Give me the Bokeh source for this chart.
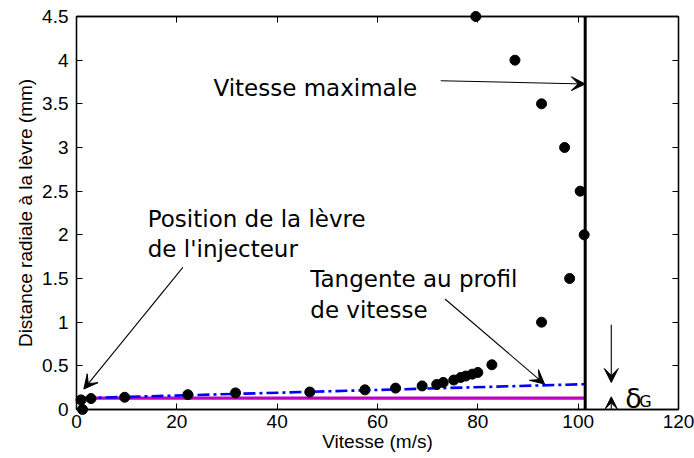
from bokeh.plotting import figure
from bokeh.models import LinearAxis, FixedTicker, Label, Arrow, VeeHead, CustomJSTickFormatter
from bokeh.embed import file_html
from bokeh.resources import INLINE

# Measured profile
vitesse = [1.2, 0.9, 2.9, 9.6, 22.2, 31.7, 46.5, 57.5, 63.6, 68.9,
           71.8, 73.1, 75.2, 76.6, 77.6, 78.9, 80.0, 82.8,
           92.7, 98.3, 101.2, 100.4, 97.3, 92.7, 87.4, 79.6]
distance = [0.0, 0.11, 0.125, 0.14, 0.17, 0.19, 0.20, 0.225, 0.245, 0.27,
            0.286, 0.31, 0.337, 0.367, 0.383, 0.405, 0.424, 0.512,
            1.0, 1.5, 2.0, 2.5, 3.0, 3.5, 4.0, 4.5]

# Reference lines
vmax_x = [101.4, 101.4]
vmax_y = [0, 4.5]
levre_x = [1.2, 101.4]
levre_y = [0.13, 0.13]
tangente_x = [1.2, 101.4]
tangente_y = [0.13, 0.29]

# Axis ticks
x_ticks = [0, 20, 40, 60, 80, 100, 120]
x_tick_labels = ["0", "20", "40", "60", "80", "100", "120"]
y_ticks = [0, 0.5, 1, 1.5, 2, 2.5, 3, 3.5, 4, 4.5]
y_tick_labels = ["0", "0.5", "1", "1.5", "2", "2.5", "3", "3.5", "4", "4.5"]

TICK_FONT = "Liberation Sans"
ANN_FONT = "DejaVu Sans"

p = figure(width=694, height=458, x_range=(0, 120), y_range=(0, 4.5),
           output_backend="svg", toolbar_location=None,
           min_border_left=76, min_border_right=16, min_border_top=16,
           min_border_bottom=49)
p.grid.visible = False
p.outline_line_color = "black"
p.outline_line_width = 1.3
p.background_fill_color = "white"

for ax in p.xaxis:
    ax.ticker = FixedTicker(ticks=x_ticks)
    ax.major_label_overrides = dict(zip(x_ticks, x_tick_labels))
    ax.axis_label = "Vitesse (m/s)"
    ax.axis_label_standoff = 0
for ax in p.yaxis:
    ax.ticker = FixedTicker(ticks=y_ticks)
    ax.major_label_overrides = dict(zip(y_ticks, y_tick_labels))
    ax.axis_label = "Distance radiale à la lèvre (mm)"
    ax.axis_label_standoff = 3

for ax in list(p.xaxis) + list(p.yaxis):
    ax.axis_label_text_font = TICK_FONT
    ax.axis_label_text_font_size = "19px"
    ax.axis_label_text_font_style = "normal"
    ax.axis_label_text_color = "black"
    ax.major_label_text_font = TICK_FONT
    ax.major_label_text_font_size = "19px"
    ax.major_label_text_color = "black"
    ax.major_tick_in = 6
    ax.major_tick_out = 0
    ax.minor_tick_line_color = None
    ax.axis_line_width = 1.3
    ax.axis_line_color = "black"
    ax.major_tick_line_color = "black"
for ax in p.xaxis:
    ax.major_label_standoff = 5
for ax in p.yaxis:
    ax.major_label_standoff = 8

blank = CustomJSTickFormatter(code="return '';")
top_ax = LinearAxis(ticker=FixedTicker(ticks=x_ticks), formatter=blank,
                    major_label_standoff=0, major_tick_in=6, major_tick_out=0,
                    minor_tick_line_color=None, axis_line_width=1.3)
right_ax = LinearAxis(ticker=FixedTicker(ticks=y_ticks), formatter=blank,
                      major_label_standoff=0, major_tick_in=6, major_tick_out=0,
                      minor_tick_line_color=None, axis_line_width=1.3)
p.add_layout(top_ax, "above")
p.add_layout(right_ax, "right")

# Lines
p.line(levre_x, levre_y, line_color="#C000C0", line_width=3.2)
p.line(tangente_x, tangente_y, line_color="#0000FF", line_width=2.6, line_dash="12 4 3 4")
p.line(vmax_x, vmax_y, line_color="black", line_width=3)

# Points
pts = p.scatter(vitesse, distance, size=10, fill_color="black", line_color="black")
pts.level = "overlay"

# Annotations
def ann(x, y, t, size="23px"):
    p.add_layout(Label(x=x, y=y, text=t, text_font=ANN_FONT, text_font_size=size,
                       text_baseline="alphabetic", text_color="black"))

ann(27.3, 3.68, "Vitesse maximale")
ann(14.2, 2.18, "Position de la lèvre")
ann(14.2, 1.84, "de l'injecteur")
ann(46.6, 1.494, "Tangente au profil")
ann(46.6, 1.139, "de vitesse")
ann(109.4, 0.13, "δ", size="27px")
ann(112.2, 0.09, "G", size="16px")

def arrow(x0, y0, x1, y1, size=14):
    p.add_layout(Arrow(end=VeeHead(size=size, fill_color="black", line_color="black"),
                       x_start=x0, y_start=y0, x_end=x1, y_end=y1,
                       line_color="black", line_width=1.1))

arrow(72.6, 3.765, 101.4, 3.727)
arrow(21.2, 1.627, 1.46, 0.234)
arrow(73.45, 1.265, 93.3, 0.291)
arrow(106.6, 0.97, 106.6, 0.309)
arrow(106.6, 0.0, 106.6, 0.145, size=12)

open("out.html", "w").write(file_html(p, INLINE))
